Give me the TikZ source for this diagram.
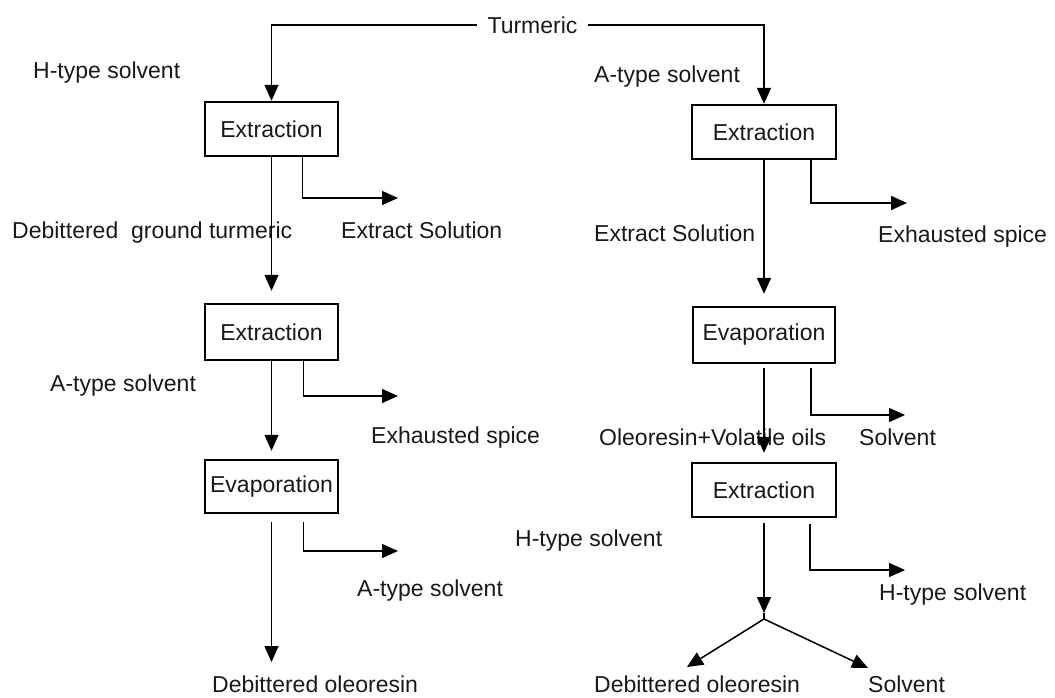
\documentclass[tikz,border=0pt]{standalone}
\usepackage{fontspec}
\setmainfont{Liberation Sans}
\usetikzlibrary{arrows.meta}
\begin{document}
\begin{tikzpicture}[x=1pt,y=-1pt,
  txt/.style={font=\fontsize{23}{27}\selectfont, text=black!90},
  box/.style={txt, draw, line width=2.4pt, minimum width=133pt, minimum height=54pt, inner sep=0pt},
  lbl/.style={txt, anchor=base west, inner sep=0pt},
  conn/.style={line width=1.5pt},
  arr/.style={line width=1.5pt, -{Triangle[length=16pt,width=14pt]}},
]
\fill[white] (0,0) rectangle (1055,697);
\useasboundingbox (0,0) rectangle (1055,697);

% process boxes
\node[box] (L1) at (271.5,129) {Extraction};
\node[box, minimum height=56pt] (L2) at (271.5,332) {Extraction};
\node[box, minimum height=53pt] (L3) at (271.5,486.5) {Evaporation};
\node[box, minimum width=144pt] (R1) at (764,132) {Extraction};
\node[box, minimum width=142pt, minimum height=56pt] (R2) at (764,335) {Evaporation};
\node[box, minimum width=144pt] (R3) at (764,490) {Extraction};

% source
\node[txt, inner xsep=10pt, inner ysep=0pt] (T) at (532.5,25) {Turmeric};

% labels
\node[lbl] (hts1) at (33,78) {H-type solvent};
\node[lbl] (ats1) at (594,82) {A-type solvent};
\node[lbl] (dgt) at (12,238) {Debittered\ \ ground turmeric};
\node[lbl] (esl) at (341,238) {Extract Solution};
\node[lbl] (esr) at (594,241) {Extract Solution};
\node[lbl] (exs1) at (878,242) {Exhausted spice};
\node[lbl] (ats2) at (50,391) {A-type solvent};
\node[lbl] (exs2) at (371,443) {Exhausted spice};
\node[lbl] (ovo) at (599,445) {Oleoresin+Volatile oils};
\node[lbl] (sol1) at (859,445) {Solvent};
\node[lbl] (hts2) at (515,546) {H-type solvent};
\node[lbl] (ats3) at (357,596) {A-type solvent};
\node[lbl] (hts3) at (879,600) {H-type solvent};
\node[lbl] (dol) at (212,692) {Debittered oleoresin};
\node[lbl] (dor) at (594,692) {Debittered oleoresin};
\node[lbl] (sol2) at (868,692) {Solvent};

% feed
\draw[arr] (T.west) -| (L1.north);
\draw[arr] (T.east) -| (R1.north);

% main streams
\coordinate (Lend) at (271.5,662);
\coordinate (Rtip) at (764,613);
\coordinate (apex) at (764,619);
\coordinate (fl) at (687,667);
\coordinate (fr) at (868,668);
\draw[arr, shorten >=12pt] (L1.south) -- (L2.north);
\draw[arr, shorten >=8pt] (L2.south) -- (L3.north);
\draw[arr, shorten <=8pt] (L3.south) -- (Lend);
\draw[arr, shorten >=12pt] (R1.south) -- (R2.north);
\draw[arr, shorten <=4pt, shorten >=9pt] (R2.south) -- (R3.north);
\draw[arr, shorten <=5pt] (R3.south) -- (Rtip);
\draw[conn] (Rtip) -- (apex);
\draw[arr] (apex) -- (fl);
\draw[arr] (apex) -- (fr);

% side streams
\coordinate (e1) at (398,198);
\coordinate (e2) at (398,396);
\coordinate (e3) at (398,551);
\coordinate (f1) at (907,203);
\coordinate (f2) at (905,415);
\coordinate (f3) at (905,570);
\draw[arr] ([xshift=31pt]L1.south) |- (e1);
\draw[arr] ([xshift=32pt]L2.south) |- (e2);
\draw[arr] ([xshift=32pt,yshift=-8pt]L3.south) |- (e3);
\draw[arr] ([xshift=47pt]R1.south) |- (f1);
\draw[arr] ([xshift=47pt,yshift=-4pt]R2.south) |- (f2);
\draw[arr] ([xshift=46pt,yshift=-6pt]R3.south) |- (f3);
\end{tikzpicture}
\end{document}
